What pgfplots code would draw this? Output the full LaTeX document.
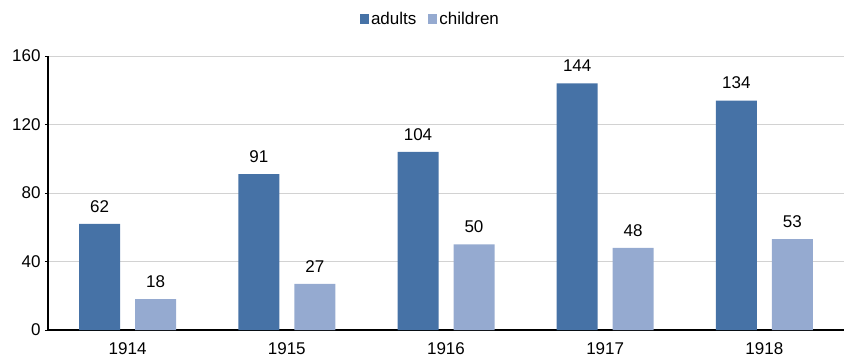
\documentclass[border=0pt]{standalone}
\usepackage{pgfplots}
\pgfplotsset{compat=1.18}
\usepackage{fontspec}
\setmainfont{Liberation Sans}
\definecolor{adultc}{RGB}{70,114,166}
\definecolor{childc}{RGB}{149,170,208}
\begin{document}
\begin{tikzpicture}
\useasboundingbox (-48pt,-32pt) rectangle (796pt,330pt);
\begin{axis}[
  at={(0pt,0pt)}, anchor=south west,
  scale only axis, width=796pt, height=274pt,
  ybar=15pt, bar width=41pt,
  xmin=-0.5, xmax=4.5, ymin=0, ymax=160,
  xtick=data, xticklabels={1914,1915,1916,1917,1918},
  ytick={0,40,80,120,160},
  axis x line*=bottom, axis y line*=left,
  axis line style={black, line width=1.2pt},
  x axis line style={-}, y axis line style={-},
  xtick style={draw=none},
  ytick style={black, line width=0.6pt},
  tick align=outside, major tick length=3pt,
  ymajorgrids, grid style={gray!35, line width=0.7pt},
  tick label style={font=\fontsize{17}{19}\selectfont},
  /pgf/number format/assume math mode=true,
  yticklabel style={xshift=-1pt},
  xticklabel style={yshift=-6pt},
  nodes near coords,
  every node near coord/.append style={font=\fontsize{17}{19}\selectfont, black, yshift=8pt},
  legend style={at={(0.4805,1.135)}, anchor=center, draw=none, fill=none,
    legend columns=-1, font=\fontsize{17}{19}\selectfont,
    /tikz/every even column/.append style={column sep=10pt}},
  legend image code/.code={\fill[#1] (0pt,-5pt) rectangle (9pt,5pt);},
]
\addplot[fill=adultc, draw=none] coordinates {(0,62) (1,91) (2,104) (3,144) (4,134)};
\addplot[fill=childc, draw=none] coordinates {(0,18) (1,27) (2,50) (3,48) (4,53)};
\legend{adults,children}
\end{axis}
\end{tikzpicture}
\end{document}
